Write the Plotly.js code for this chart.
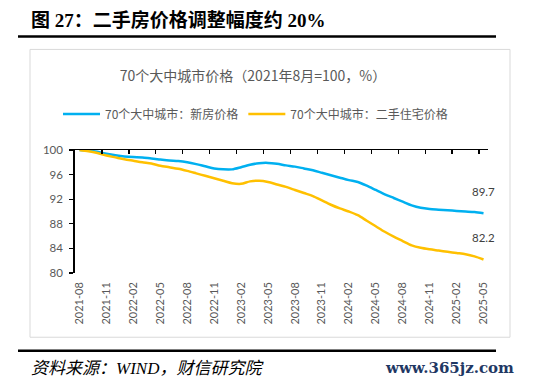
<!DOCTYPE html>
<html>
<head>
<meta charset="utf-8">
<script src="https://cdn.plot.ly/plotly-3.0.1.min.js"></script>
<style>
html,body{margin:0;padding:0;background:#fff;}
#chart{width:550px;height:385px;}
</style>
</head>
<body>
<div id="chart"></div>
<script>
// ---- data ----
const months = [
  "2021-08","2021-09","2021-10","2021-11","2021-12","2022-01","2022-02","2022-03","2022-04","2022-05",
  "2022-06","2022-07","2022-08","2022-09","2022-10","2022-11","2022-12","2023-01","2023-02","2023-03",
  "2023-04","2023-05","2023-06","2023-07","2023-08","2023-09","2023-10","2023-11","2023-12","2024-01",
  "2024-02","2024-03","2024-04","2024-05","2024-06","2024-07","2024-08","2024-09","2024-10","2024-11",
  "2024-12","2025-01","2025-02","2025-03","2025-04","2025-05"
];
const tickLabels = ["2021-08","2021-11","2022-02","2022-05","2022-08","2022-11","2023-02","2023-05",
  "2023-08","2023-11","2024-02","2024-05","2024-08","2024-11","2025-02","2025-05"];
const newHomePrice = [
  100.0, 99.9, 99.7, 99.4, 99.15, 98.95, 98.85, 98.8, 98.6, 98.45,
  98.3, 98.2, 98.0, 97.7, 97.35, 97.0, 96.85, 96.85, 97.2, 97.6,
  97.85, 97.9, 97.75, 97.5, 97.3, 97.0, 96.7, 96.3, 95.9, 95.5,
  95.1, 94.8, 94.2, 93.5, 92.8, 92.2, 91.6, 91.0, 90.6, 90.4,
  90.3, 90.2, 90.1, 90.0, 89.9, 89.7
];
const resalePrice = [
  100.0, 99.8, 99.5, 99.1, 98.8, 98.5, 98.25, 98.0, 97.8, 97.45,
  97.2, 96.95, 96.6, 96.2, 95.8, 95.4, 95.0, 94.6, 94.5, 94.9,
  95.0, 94.8, 94.4, 94.0, 93.5, 93.0, 92.5, 91.8, 91.1, 90.5,
  90.0, 89.4, 88.5, 87.6, 86.7, 85.9, 85.2, 84.5, 84.1, 83.85,
  83.65, 83.45, 83.25, 83.05, 82.7, 82.2
];
const seriesNames = ["70个大中城市：新房价格", "70个大中城市：二手住宅价格"];
const yTicks = [80, 84, 88, 92, 96, 100];

// ---- derived ----
const xIdx = months.map((m, i) => i);
const labelIdx = tickLabels.map(t => months.indexOf(t));
const boundaryTicks = labelIdx.map(i => i - 0.5);
const last = months.length - 1;

const numFont = "Lato, 'Noto Sans CJK SC', sans-serif";
const cjkFont = "'Noto Sans CJK SC', Lato, sans-serif";

const traces = [
  {
    x: xIdx, y: newHomePrice, name: seriesNames[0], type: "scatter", mode: "lines",
    line: {color: "#00B0F0", width: 2.5, shape: "spline", smoothing: 0.8},
    hoverinfo: "skip"
  },
  {
    x: xIdx, y: resalePrice, name: seriesNames[1], type: "scatter", mode: "lines",
    xaxis: "x2",
    line: {color: "#FFC000", width: 2.5, shape: "spline", smoothing: 0.8},
    hoverinfo: "skip"
  }
];

const W = 550, H = 385;
const M = {l: 75, r: 62, t: 150, b: 111.5};
const PW = W - M.l - M.r, PH = H - M.t - M.b;
// pixel -> plot-area paper coords
const px = v => (v - M.l) / PW, py = v => (H - M.b - v) / PH;
// pixel -> container coords
const cx = v => v / W, cy = v => 1 - v / H;

const layout = {
  width: W, height: H,
  margin: {l: M.l, r: M.r, t: M.t, b: M.b, pad: 0},
  paper_bgcolor: "#fff", plot_bgcolor: "rgba(0,0,0,0)",
  showlegend: true,
  title: {
    text: "70个大中城市价格（2021年8月=100，%）",
    font: {family: cjkFont, size: 14, color: "#595959"},
    x: cx(253), xref: "container", xanchor: "center",
    y: cy(76), yref: "container", yanchor: "middle"
  },
  legend: {
    orientation: "h", xref: "container", yref: "container",
    x: cx(58), xanchor: "left", y: cy(114), yanchor: "middle",
    font: {family: cjkFont, size: 12, color: "#595959"},
    itemwidth: 37, bgcolor: "rgba(0,0,0,0)", traceorder: "normal"
  },
  xaxis: {
    type: "linear", range: [-0.5, last + 0.5],
    tickvals: labelIdx, ticktext: tickLabels, tickangle: -90,
    ticks: "", showline: false, showgrid: false, zeroline: false,
    tickfont: {family: numFont, size: 11, color: "#595959"},
    ticklabelstandoff: 6, fixedrange: true
  },
  xaxis2: {
    type: "linear", range: [-0.5, last + 0.5], overlaying: "x", side: "top", anchor: "y",
    tickvals: boundaryTicks, showticklabels: false,
    ticks: "inside", ticklen: 4, tickwidth: 1.3, tickcolor: "#000",
    showline: true, linecolor: "#000", linewidth: 1.5,
    showgrid: false, zeroline: false, fixedrange: true
  },
  yaxis: {
    range: [80, 100], tickvals: yTicks,
    ticks: "outside", ticklen: 4, tickwidth: 1.3, tickcolor: "#000",
    showline: true, linecolor: "#000", linewidth: 1.8,
    showgrid: false, zeroline: false,
    tickfont: {family: numFont, size: 11.5, color: "#595959"},
    ticklabelstandoff: 4, fixedrange: true
  },
  shapes: [
    {type: "line", xref: "paper", yref: "paper", x0: px(18), x1: px(496), y0: py(36), y1: py(36),
     line: {color: "#000", width: 2.5}},
    {type: "line", xref: "paper", yref: "paper", x0: px(18), x1: px(496), y0: py(351.5), y1: py(351.5),
     line: {color: "#000", width: 2.5}},
    {type: "rect", xref: "paper", yref: "paper", x0: px(30), x1: px(510), y0: py(49), y1: py(338),
     line: {color: "#D9D9D9", width: 1}, fillcolor: "rgba(0,0,0,0)", layer: "below"}
  ],
  annotations: [
    {text: "<b>图 27：二手房价格调整幅度约 20%</b>", xref: "paper", yref: "paper",
     x: px(29), y: py(19), xanchor: "left", yanchor: "middle", showarrow: false,
     font: {family: "'Liberation Serif', 'Noto Sans CJK SC', serif", size: 19, color: "#000"}},
    {text: "<i>资料来源：WIND，财信研究院</i>", xref: "paper", yref: "paper",
     x: px(29), y: py(369), xanchor: "left", yanchor: "middle", showarrow: false,
     font: {family: "'Liberation Serif', 'Noto Sans CJK SC', serif", size: 17, color: "#000"}},
    {text: "www.365jz.com", xref: "paper", yref: "paper",
     x: px(516), y: py(369), xanchor: "right", yanchor: "middle", showarrow: false,
     font: {family: "'DejaVu Serif', serif", size: 15, color: "#1F3864", weight: "bold"}},
    {text: newHomePrice[last].toFixed(1), x: xIdx[last], y: newHomePrice[last], xref: "x", yref: "y",
     showarrow: false, yshift: 22, xanchor: "center", yanchor: "middle",
     font: {family: numFont, size: 11.5, color: "#404040"}},
    {text: resalePrice[last].toFixed(1), x: xIdx[last], y: resalePrice[last], xref: "x", yref: "y",
     showarrow: false, yshift: 22, xanchor: "center", yanchor: "middle",
     font: {family: numFont, size: 11.5, color: "#404040"}}
  ]
};

Plotly.newPlot("chart", traces, layout, {displayModeBar: false, staticPlot: true});
</script>
</body>
</html>
